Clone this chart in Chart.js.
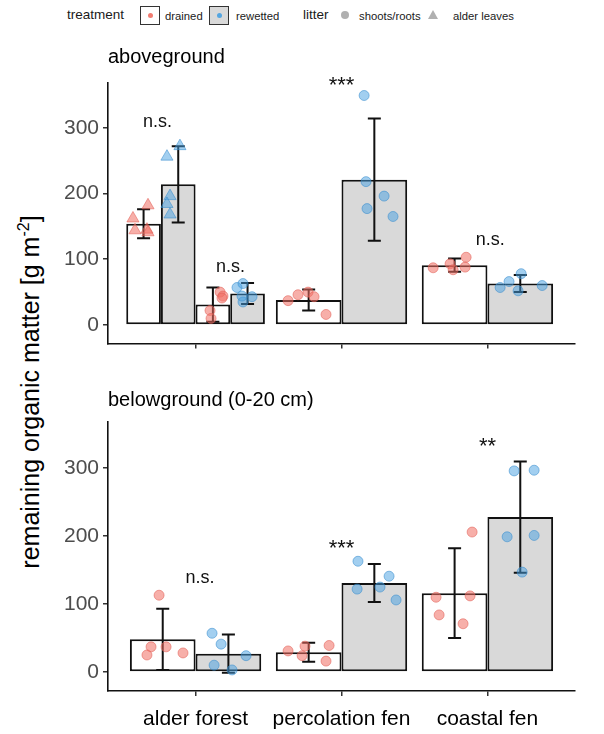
<!DOCTYPE html>
<html>
<head>
<meta charset="utf-8">
<script src="https://cdn.jsdelivr.net/npm/chart.js@4.4.0/dist/chart.umd.min.js"></script>
<style>
body{margin:0;background:#fff;font-family:'Liberation Sans',Arial,sans-serif;}
#wrap{position:relative;width:604px;height:734px;overflow:hidden;background:#fff;}
canvas{position:absolute;left:0;}
#legend{position:absolute;top:0;left:0;width:604px;height:30px;color:#1a1a1a;}
#legend span{position:absolute;top:8px;line-height:16px;white-space:nowrap;font-size:11.3px;}
#legend span.t{font-size:13.5px;top:7px;}
#legend .key{position:absolute;top:6px;width:20px;height:19px;border:1px solid #333;box-sizing:border-box;}
#legend .key i{position:absolute;left:7px;top:6px;width:5px;height:5px;border-radius:50%;}
#legend .dot{position:absolute;top:11px;width:8px;height:8px;border-radius:50%;background:#b0b0b0;}
#legend .tri{position:absolute;top:10px;width:0;height:0;border-left:5px solid transparent;border-right:5px solid transparent;border-bottom:9px solid #b0b0b0;}
#ytitle{position:absolute;left:30px;top:392px;transform:translate(-50%,-50%) rotate(-90deg);white-space:nowrap;font-size:25px;color:#000;}
#ytitle sup{font-size:16px;}
</style>
</head>
<body>
<div id="wrap">
  <div id="legend">
    <span class="t" style="left:67px">treatment</span>
    <div class="key" style="left:140px;background:#fff"><i style="background:rgba(240,110,98,0.9)"></i></div>
    <span style="left:165px">drained</span>
    <div class="key" style="left:209px;background:#d9d9d9"><i style="background:rgba(70,160,225,0.9)"></i></div>
    <span style="left:236px">rewetted</span>
    <span class="t" style="left:303px">litter</span>
    <b class="dot" style="left:341px"></b>
    <span style="left:359px">shoots/roots</span>
    <b class="tri" style="left:428px"></b>
    <span style="left:453px">alder leaves</span>
  </div>
  <div id="ytitle">remaining organic matter [g m<sup>-2</sup>]</div>
  <canvas id="above" width="604" height="320" style="top:40px"></canvas>
  <canvas id="below" width="604" height="358" style="top:376px"></canvas>
</div>
<script>
const sites = ['alder forest', 'percolation fen', 'coastal fen'];
const yTicks = [0, 100, 200, 300];

// aboveground bars: alder forest (alder leaves), alder forest (shoots/roots), percolation fen, coastal fen
const aboveDrainedMean = [154, 31, 38, 91];
const aboveDrainedSd = [22, 26, 16, 10];
const aboveRewettedMean = [214, 48, 221, 63];
const aboveRewettedSd = [58, 16, 93, 13];

// aboveground single samples (value, x position on the site axis)
const aboveDrainedPts = [[162, 182, 144, 145, 141], [50, 44, 41, 22, 10], [37, 46, 50, 43, 16], [87, 93, 84, 103, 88]];
const aboveDrainedX = [[0.571, 0.674, 0.585, 0.667, 0.674], [1.168, 1.188, 1.181, 1.099, 1.106], [1.634, 1.702, 1.771, 1.812, 1.894], [2.628, 2.744, 2.765, 2.854, 2.847]];
const aboveRewettedPts = [[256, 272, 196, 184, 168], [57, 63, 43, 35, 44], [349, 218, 196, 177, 165], [57, 66, 78, 52, 60]];
const aboveRewettedX = [[0.804, 0.893, 0.825, 0.804, 0.825], [1.284, 1.325, 1.387, 1.325, 1.318], [2.155, 2.168, 2.292, 2.175, 2.353], [3.087, 3.148, 3.231, 3.210, 3.375]];

// belowground bars: alder forest, percolation fen, coastal fen
const belowDrainedMean = [48, 29, 116];
const belowDrainedSd = [45, 14, 66];
const belowRewettedMean = [27, 131, 228];
const belowRewettedSd = [28, 28, 82];

const belowDrainedPts = [[113, 37, 25, 37, 28], [31, 38, 24, 39, 16], [206, 110, 112, 84, 71]];
const belowDrainedX = [[0.750, 0.695, 0.667, 0.798, 0.914], [1.634, 1.750, 1.730, 1.915, 1.894], [2.895, 2.648, 2.881, 2.669, 2.833]];
const belowRewettedPts = [[57, 41, 10, 3, 24], [163, 141, 122, 125, 106], [296, 297, 199, 201, 147]];
const belowRewettedX = [[1.113, 1.175, 1.127, 1.250, 1.346], [2.113, 2.326, 2.107, 2.264, 2.374], [3.183, 3.320, 3.135, 3.320, 3.238]];

// significance labels (text baseline in data units)
const aboveSig = ['n.s.', 'n.s.', '***', 'n.s.'];
const aboveSigX = [0.74, 1.24, 2.0, 3.02];
const aboveSigY = [301, 81, 354, 121];
const belowSig = ['n.s.', '***', '**'];
const belowSigX = [1.03, 2.0, 3.0];
const belowSigY = [131, 172, 323];

Chart.defaults.font.family = "'Liberation Sans', Arial, Helvetica, sans-serif";
Chart.defaults.color = '#000';

const RED = 'rgba(240,110,98,0.55)';
const RED_EDGE = 'rgba(225,95,85,0.55)';
const BLUE = 'rgba(70,160,225,0.5)';
const BLUE_EDGE = 'rgba(55,140,205,0.55)';
const GREY = '#d9d9d9';

// means / sds are aligned with sites; null = no bar at that site
function bars(label, fill, means, sds, catPct) {
  return {
    type: 'bar', label,
    data: means.map((m, i) => ({ x: i + 1, y: m })),
    sd: sds,
    backgroundColor: fill, borderColor: '#111', borderWidth: 2, borderSkipped: false,
    categoryPercentage: catPct, barPercentage: 1, skipNull: true, order: 2
  };
}

function points(label, ys, xs, drained, style) {
  const data = [];
  ys.forEach((grp, g) => grp.forEach((v, k) => data.push({ x: xs[g][k], y: v })));
  return {
    type: 'scatter', label, data,
    backgroundColor: drained ? RED : BLUE,
    borderColor: drained ? RED_EDGE : BLUE_EDGE,
    borderWidth: 1,
    pointStyle: style,
    pointRadius: style === 'triangle' ? 7 : 5,
    order: 1
  };
}

const errorBars = {
  id: 'errorBars',
  beforeDatasetsDraw(chart) { chart.$ebDone = false; },
  beforeDatasetDraw(chart, args) {
    if (chart.$ebDone || args.meta.type !== 'scatter') return;
    chart.$ebDone = true;
    const ctx = chart.ctx, y = chart.scales.y;
    ctx.save();
    ctx.strokeStyle = '#111';
    ctx.lineWidth = 2;
    chart.data.datasets.forEach((ds, i) => {
      if (ds.type !== 'bar') return;
      chart.getDatasetMeta(i).data.forEach((el, j) => {
        const m = ds.data[j].y, s = ds.sd[j];
        if (m == null) return;
        const top = y.getPixelForValue(m + s), bot = y.getPixelForValue(m - s);
        ctx.beginPath();
        ctx.moveTo(el.x, top); ctx.lineTo(el.x, bot);
        ctx.moveTo(el.x - 6.5, top); ctx.lineTo(el.x + 6.5, top);
        ctx.moveTo(el.x - 6.5, bot); ctx.lineTo(el.x + 6.5, bot);
        ctx.stroke();
      });
    });
    ctx.restore();
  }
};

const sigLabels = {
  id: 'sigLabels',
  afterDatasetsDraw(chart, args, opts) {
    const ctx = chart.ctx, xs = chart.scales.x, ys = chart.scales.y;
    ctx.save();
    ctx.fillStyle = '#111';
    ctx.textAlign = 'center';
    ctx.textBaseline = 'alphabetic';
    opts.text.forEach((t, i) => {
      ctx.font = (t.startsWith('*') ? 22 : 18) + "px 'Liberation Sans', Arial, sans-serif";
      ctx.fillText(t, xs.getPixelForValue(opts.x[i]), ys.getPixelForValue(opts.y[i]));
    });
    ctx.restore();
  }
};

function options(title, titlePad, xHeight, showLabels, sig) {
  return {
    responsive: false,
    animation: false,
    layout: { padding: { left: 0, right: 29, top: 0, bottom: 0 } },
    plugins: {
      legend: { display: false },
      tooltip: { enabled: false },
      title: {
        display: true, text: title, align: 'start', fullSize: false,
        font: { size: 20, weight: 'normal' }, color: '#000', padding: titlePad
      },
      sigLabels: sig
    },
    scales: {
      x: {
        type: 'linear', min: 0.4, max: 3.6, offset: false,
        afterBuildTicks: (s) => { s.ticks = sites.map((_, i) => ({ value: i + 1 })); },
        afterFit: (s) => { s.height = xHeight; },
        ticks: {
          display: showLabels, padding: 11, color: '#000', font: { size: 21 },
          callback: (v) => sites[v - 1]
        },
        grid: { drawOnChartArea: false, drawTicks: true, tickLength: 5, color: '#333', lineWidth: 1.5, offset: false },
        border: { display: true, color: '#111', width: 1.6 }
      },
      y: {
        min: -28, max: 368,
        afterBuildTicks: (s) => { s.ticks = yTicks.map(v => ({ value: v })); },
        afterFit: (s) => { s.width = 108; },
        ticks: { padding: 4, color: '#4d4d4d', font: { size: 21 } },
        grid: { drawOnChartArea: false, drawTicks: true, tickLength: 5, color: '#333', lineWidth: 1.5 },
        border: { display: true, color: '#111', width: 1.6 }
      }
    }
  };
}

new Chart(document.getElementById('above'), {
  type: 'bar',
  data: {
    datasets: [
      bars('drained, alder leaves', '#fff', [aboveDrainedMean[0], null, null], [aboveDrainedSd[0], null, null], 0.95),
      bars('rewetted, alder leaves', GREY, [aboveRewettedMean[0], null, null], [aboveRewettedSd[0], null, null], 0.95),
      bars('drained, shoots/roots', '#fff', [aboveDrainedMean[1], null, null], [aboveDrainedSd[1], null, null], 0.95),
      bars('rewetted, shoots/roots', GREY, [aboveRewettedMean[1], null, null], [aboveRewettedSd[1], null, null], 0.95),
      bars('drained', '#fff', [null, ...aboveDrainedMean.slice(2)], [null, ...aboveDrainedSd.slice(2)], 0.9),
      bars('rewetted', GREY, [null, ...aboveRewettedMean.slice(2)], [null, ...aboveRewettedSd.slice(2)], 0.9),
      points('drained leaves', aboveDrainedPts.slice(0, 1), aboveDrainedX.slice(0, 1), true, 'triangle'),
      points('rewetted leaves', aboveRewettedPts.slice(0, 1), aboveRewettedX.slice(0, 1), false, 'triangle'),
      points('drained shoots', aboveDrainedPts.slice(1), aboveDrainedX.slice(1), true, 'circle'),
      points('rewetted shoots', aboveRewettedPts.slice(1), aboveRewettedX.slice(1), false, 'circle')
    ]
  },
  options: options('aboveground', { top: 5, bottom: 14 }, 9, false,
    { text: aboveSig, x: aboveSigX, y: aboveSigY }),
  plugins: [errorBars, sigLabels]
});

new Chart(document.getElementById('below'), {
  type: 'bar',
  data: {
    datasets: [
      bars('drained', '#fff', belowDrainedMean, belowDrainedSd, 0.9),
      bars('rewetted', GREY, belowRewettedMean, belowRewettedSd, 0.9),
      points('drained', belowDrainedPts, belowDrainedX, true, 'circle'),
      points('rewetted', belowRewettedPts, belowRewettedX, false, 'circle')
    ]
  },
  options: options('belowground (0-20 cm)', { top: 12, bottom: 10 }, 43, true,
    { text: belowSig, x: belowSigX, y: belowSigY }),
  plugins: [errorBars, sigLabels]
});
</script>
</body>
</html>
